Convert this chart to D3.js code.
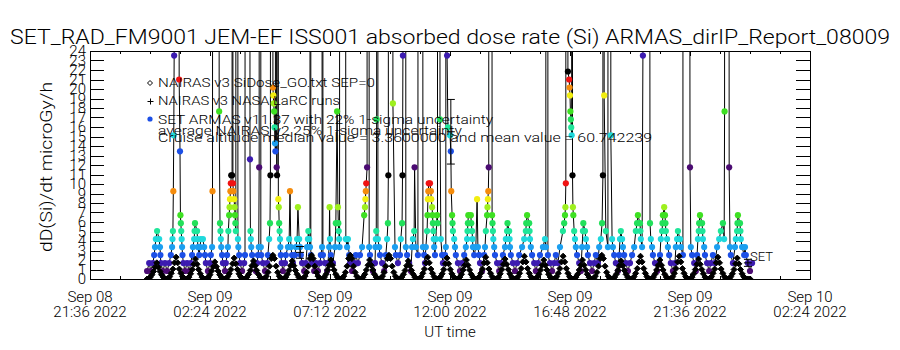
<!DOCTYPE html>
<html>
<head>
<meta charset="utf-8">
<script src="https://d3js.org/d3.v7.min.js"></script>
<style>
body { margin: 0; background: white; }
svg text { font-family: Roboto, "DejaVu Sans", sans-serif; font-weight: 300; fill: black; }
</style>
</head>
<body>
<script>
// ---- data (times in minutes after 2022-09-09 00:00 UT, dose in microGy/h) ----
const titleText = "SET_RAD_FM9001  JEM-EF ISS001 absorbed dose rate (Si) ARMAS_dirIP_Report_08009";
const xTickTimes = ["2022-09-08T21:36Z", "2022-09-09T02:24Z", "2022-09-09T07:12Z", "2022-09-09T12:00Z",
                    "2022-09-09T16:48Z", "2022-09-09T21:36Z", "2022-09-10T02:24Z"];
const yTickValues = [0,1,2,3,4,5,6,7,8,9,10,11,12,13,14,15,16,17,18,19,20,21,22,23,24];

const legendLines = [
  {sym: "diamond", text: "NAIRAS v3 SiDose_GO.txt SEP=0"},
  {sym: "plus", text: "NAIRAS v3 NASA LaRC runs"},
  {sym: "dot", text: "SET ARMAS v11.37 with 22% 1-sigma uncertainty"},
  {sym: null, text: "average NAIRAS v2 25% 1-sigma uncertainty"},
  {sym: null, text: "Cruise altitude median value = 3.3600000 and mean value = 60.742239"}
];

// SET ARMAS dose-rate quantum and the colour table cycled over it
const doseStep = 0.84;
const levelColors = ["#000000", "#4b0b72", "#3c1bb0", "#1c4fe6", "#1b9ff0", "#1fd9dc", "#1fe69a",
                     "#22e05a", "#3ee022", "#9ef01e", "#f2ee10", "#f58c0c", "#f01212"];

// SET ARMAS samples [minute, dose]; 900 = off-scale spike
const setPoints = [
  [-7,0.84],[-2,1.68],[2,0.84],[7,1.68],[10,2.52],[12,3.36],[14,4.2],[17,5.04],[22,4.2],[24,3.36],[25,2.52],
  [26,1.68],[31,0.84],[36,1.68],[41,0.84],[46,1.68],
  [50,2.52],[53,3.36],[54,4.2],[55,5.04],[56,9.24],[57,15.12],[58,23.52],[62,900],[70,21],[72,13.44],
  [73,6.72],[74,5.88],[75,5.04],[76,4.2],[77,3.36],[78,2.52],[80,1.68],[84,0.84],[89,1.68],
  [94,0.84],[98,1.68],[101,2.52],[103,3.36],[106,4.2],[107,5.04],[108,5.88],[113,5.04],[114,4.2],[115,3.36],
  [118,2.52],[120,3.36],[122,4.2],[127,4.2],[130,3.36],[132,2.52],[134,1.68],[139,0.84],[144,1.68],
  [146,2.52],[149,3.36],[150,9.24],[158,900],[166,17.64],[168,5.88],[169,5.04],[170,4.2],[171,3.36],
  [173,2.52],[175,1.68],[180,0.84],[182,1.68],
  [185,2.52],[187,3.36],[188,5.04],[190,6.72],[191,7.56],[192,8.4],[193,9.24],[194,10.08],[195,10.92],
  [197,10.92],[198,900],[199,10.08],[200,9.24],[202,8.4],[203,7.56],[204,6.72],[205,5.88],[206,5.04],
  [208,900],[211,4.2],[212,3.36],[214,2.52],[216,1.68],[221,0.84],[226,1.68],
  [228,2.52],[233,900],[240,12.6],[241,5.04],[242,4.2],[243,3.36],[245,2.52],[250,1.68],[254,0.84],
  [257,1.68],[259,2.52],[261,3.36],[262,11.76],[264,900],[266,3.36],[267,2.52],[271,1.68],[276,0.84],[281,1.68],
  [283,2.52],[286,4.2],[288,5.88],[289,10.92],[290,900],[295,20.16],[296,19.32],[297,18.48],[298,17.64],
  [299,15.96],[300,14.28],[301,13.44],[302,900],[304,11.76],[305,10.92],[306,900],[308,8.4],[309,7.56],
  [310,5.88],[311,5.04],[312,4.2],[313,3.36],[314,2.52],[316,1.68],[319,0.84],[324,1.68],
  [326,2.52],[331,3.36],[334,4.2],[336,9.24],[338,3.36],[341,2.52],[343,1.68],[348,2.52],[350,3.36],
  [353,4.2],[355,7.56],[358,4.2],[360,3.36],[362,2.52],[365,1.68],[370,0.84],[374,1.68],
  [377,3.36],[379,4.2],[380,5.04],[382,4.2],[384,3.36],[385,900],[386,2.52],[389,1.68],[394,0.84],
  [398,1.68],[403,0.84],[408,1.68],[410,2.52],[413,3.36],[414,900],[415,2.52],[420,1.68],[425,0.84],
  [427,1.68],[430,3.36],[431,7.56],[432,4.2],[434,2.52],[439,1.68],[444,3.36],[446,5.88],[449,17.64],
  [451,7.56],[452,5.88],[453,5.04],[454,4.2],[455,3.36],[456,900],[470,4.2],[473,3.36],[475,4.2],
  [478,2.52],[480,1.68],[485,0.84],[490,1.68],
  [494,2.52],[499,1.68],[504,2.52],[509,3.36],[514,6.72],[516,7.56],[517,8.4],[518,9.24],[519,10.08],
  [521,11.76],[522,900],[526,3.36],[528,2.52],[530,1.68],[535,0.84],
  [540,1.68],[541,3.36],[542,4.2],[543,5.04],[544,16.8],[545,900],[547,4.2],[550,3.36],[552,2.52],
  [557,1.68],[562,0.84],
  [566,2.52],[569,4.2],[571,5.88],[572,10.92],[574,900],[583,18.48],[588,3.36],[590,2.52],[595,1.68],
  [600,2.52],[602,4.2],[605,5.88],[606,10.92],[607,23.52],[610,900],[614,3.36],[617,2.52],[622,1.68],[626,0.84],
  [629,3.36],[631,4.2],[634,5.04],[635,11.76],[638,3.36],[643,2.52],[648,900],[655,3.36],[658,2.52],[660,1.68],
  [662,3.36],[665,5.04],[666,6.72],[667,8.4],[668,9.24],[669,10.08],[672,10.08],[674,9.24],[675,8.4],
  [677,7.56],[678,6.72],[679,5.88],[680,5.04],[681,4.2],[682,3.36],[684,2.52],[686,4.2],[689,6.72],
  [690,5.88],[691,900],[696,16.8],[698,4.2],[701,2.52],[703,1.68],[708,2.52],
  [710,3.36],[711,900],[713,23.52],[715,15.96],[720,15.12],[722,13.44],[723,9.24],[725,6.72],[726,5.88],
  [727,5.04],[730,4.2],[732,3.36],[734,2.52],[739,1.68],[744,0.84],[749,1.68],
  [754,2.52],[758,3.36],[761,4.2],[762,5.04],[763,5.88],[764,6.72],[770,6.72],[771,5.88],[773,5.04],
  [774,4.2],[775,3.36],[778,2.52],[782,3.36],[785,8.4],[787,3.36],[790,2.52],[792,1.68],[797,0.84],[802,2.52],
  [804,3.36],[806,5.04],[809,6.72],[810,7.56],[811,8.4],[812,9.24],[813,11.76],[815,900],[821,6.72],
  [822,5.88],[823,5.04],[824,4.2],[826,3.36],[828,2.52],[833,1.68],[838,0.84],[842,1.68],
  [847,2.52],[852,3.36],[854,4.2],[857,5.04],[858,5.88],[862,5.04],[863,4.2],[864,3.36],[866,2.52],
  [871,1.68],[876,0.84],[881,1.68],[886,2.52],
  [893,3.36],[898,4.2],[902,5.04],[903,5.88],[905,6.72],[910,5.88],[911,5.04],[912,4.2],[914,3.36],
  [917,2.52],[922,1.68],[926,0.84],[931,1.68],[936,2.52],
  [943,3.36],[948,4.2],[950,3.36],[952,900],[955,2.52],[960,1.68],[965,0.84],[970,1.68],[974,2.52],[979,1.68],
  [984,3.36],[991,5.04],[994,5.88],[996,6.72],[997,7.56],[998,10.08],[999,900],[1003,21.84],[1006,21],
  [1007,20.16],[1008,19.32],[1009,17.64],[1010,16.8],[1011,15.96],[1012,15.12],[1013,900],[1014,10.92],
  [1015,7.56],[1016,6.72],[1018,5.04],[1020,4.2],[1022,3.36],[1025,2.52],[1030,1.68],[1034,0.84],
  [1037,3.36],[1039,5.04],[1040,5.88],[1044,5.04],[1046,4.2],[1049,3.36],[1051,2.52],[1056,1.68],
  [1061,0.84],[1066,1.68],[1070,2.52],[1075,1.68],
  [1078,3.36],[1082,4.2],[1085,5.88],[1087,10.92],[1088,900],[1090,19.32],[1094,5.04],[1099,3.36],
  [1104,900],[1106,15.12],[1109,4.2],[1111,3.36],[1114,2.52],[1118,1.68],[1123,0.84],
  [1126,2.52],[1128,4.2],[1130,5.04],[1133,4.2],[1135,3.36],[1138,2.52],[1142,1.68],[1147,0.84],[1152,1.68],
  [1157,2.52],[1162,3.36],[1166,5.04],[1169,5.88],[1171,6.72],[1176,5.88],[1177,5.04],[1178,4.2],
  [1181,3.36],[1183,23.52],[1186,900],[1200,5.88],[1202,4.2],[1205,3.36],[1207,2.52],[1212,1.68],
  [1217,0.84],[1222,1.68],
  [1224,2.52],[1226,4.2],[1229,5.04],[1230,5.88],[1231,6.72],[1234,7.56],[1236,6.72],[1237,5.88],
  [1238,5.04],[1241,4.2],[1243,3.36],[1246,2.52],[1250,1.68],[1255,0.84],[1260,1.68],
  [1262,3.36],[1265,4.2],[1267,5.04],[1272,4.2],[1274,3.36],[1279,2.52],[1282,900],[1296,11.76],
  [1298,3.36],[1301,2.52],[1306,1.68],[1310,0.84],
  [1313,2.52],[1315,4.2],[1317,5.04],[1318,5.88],[1320,6.72],[1325,5.88],[1326,5.04],[1327,4.2],
  [1330,3.36],[1332,2.52],[1337,1.68],[1342,0.84],[1346,1.68],[1351,2.52],[1356,1.68],
  [1361,3.36],[1366,4.2],[1370,5.04],[1375,5.88],[1378,4.2],[1379,17.64],[1382,900],[1390,11.76],
  [1392,3.36],[1394,2.52],[1399,1.68],[1404,3.36],[1406,4.2],[1409,5.04],[1410,5.88],[1411,6.72],
  [1416,5.88],[1417,5.04],[1418,4.2],[1421,3.36],[1426,2.52],[1428,3.36],[1430,2.52],[1435,1.68],
  [1440,0.84],[1445,1.68]
];

// NAIRAS v3 SiDose model, regular samples
const nairasStart = -7;     // minutes after 2022-09-09 00:00
const nairasStep = 3.87;    // minutes
const nairasDose = [
  0,0.04,0.2,0.45,0.8,1.25,1.7,1.25,0.8,0.45,0.2,0.04,
  0,0.05,0.25,0.6,1.05,1.7,2.3,1.7,1.05,0.6,0.25,0.05,
  0,0.05,0.2,0.55,1.0,1.55,2.1,1.55,1.0,0.55,0.2,0.05,
  0,0.04,0.2,0.45,0.85,1.3,1.8,1.3,0.85,0.45,0.2,0.04,
  0,0.05,0.25,0.55,1.0,1.6,2.2,1.6,1.0,0.55,0.25,0.05,
  0,0.05,0.2,0.5,0.9,1.4,1.9,1.4,0.9,0.5,0.2,0.05,
  0,0.05,0.3,0.7,1.35,2.15,2.5,2.15,1.35,0.7,0.3,0.05,
  0,0.05,0.2,0.5,0.9,1.4,1.9,1.4,0.9,0.5,0.2,0.05,
  0,0.05,0.3,0.7,1.35,2.15,2.5,2.15,1.35,0.7,0.3,0.05,
  0,0.05,0.2,0.5,0.95,1.45,2.0,1.45,0.95,0.5,0.2,0.05,
  0,0.05,0.3,0.7,1.35,2.15,2.5,2.15,1.35,0.7,0.3,0.05,
  0,0.05,0.2,0.5,0.95,1.45,2.0,1.45,0.95,0.5,0.2,0.05,
  0,0.05,0.3,0.7,1.35,2.15,2.5,2.15,1.35,0.7,0.3,0.05,
  0,0.05,0.2,0.5,0.9,1.4,1.9,1.4,0.9,0.5,0.2,0.05,
  0,0.05,0.25,0.6,1.05,1.7,2.3,1.7,1.05,0.6,0.25,0.05,
  0,0.05,0.25,0.55,1.0,1.6,2.2,1.6,1.0,0.55,0.25,0.05,
  0,0.05,0.2,0.5,0.95,1.45,2.0,1.45,0.95,0.5,0.2,0.05,
  0,0.05,0.25,0.6,1.05,1.7,2.3,1.7,1.05,0.6,0.25,0.05,
  0,0.05,0.2,0.55,1.0,1.55,2.1,1.55,1.0,0.55,0.2,0.05,
  0,0.05,0.25,0.6,1.1,1.8,2.4,1.8,1.1,0.6,0.25,0.05,
  0,0.05,0.2,0.5,0.95,1.45,2.0,1.45,0.95,0.5,0.2,0.05,
  0,0.05,0.25,0.6,1.1,1.8,2.4,1.8,1.1,0.6,0.25,0.05,
  0,0.05,0.2,0.5,0.95,1.45,2.0,1.45,0.95,0.5,0.2,0.05,
  0,0.05,0.3,0.7,1.35,2.15,2.5,2.15,1.35,0.7,0.3,0.05,
  0,0.05,0.2,0.5,0.9,1.4,1.9,1.4,0.9,0.5,0.2,0.05,
  0,0.05,0.25,0.6,1.1,1.8,2.4,1.8,1.1,0.6,0.25,0.05,
  0,0.05,0.2,0.5,0.95,1.45,2.0,1.45,0.95,0.5,0.2,0.05,
  0,0.05,0.25,0.6,1.1,1.8,2.4,1.8,1.1,0.6,0.25,0.05,
  0,0.05,0.2,0.55,1.0,1.55,2.1,1.55,1.0,0.55,0.2,0.05,
  0,0.05,0.25,0.6,1.05,1.7,2.3,1.7,1.05,0.6,0.25,0.05,
  0,0.05,0.25,0.55,1.0,1.6,2.2,1.6,1.0,0.55,0.25,0.05,
  0,0,0
];

// NAIRAS LaRC runs with 1-sigma bars
const larcMinutes = [360, 722, 1435];
const larcDose = [2.8, 15.5, 1.7];
const larcSigma = [0.62, 3.4, 0.37];

// ---- layout ----
const width = 900, height = 350;
const margin = {top: 51, right: 90, bottom: 71, left: 90};
const day0 = Date.UTC(2022, 8, 9);
const minToDate = m => new Date(day0 + m * 60000);

const svg = d3.select("body").append("svg")
  .attr("width", width).attr("height", height)
  .style("background", "white");

const xScale = d3.scaleUtc()
  .domain([new Date(xTickTimes[0]), new Date(xTickTimes[xTickTimes.length - 1])])
  .range([margin.left, width - margin.right]);
const yScale = d3.scaleLinear()
  .domain([0, 24])
  .range([height - margin.bottom, margin.top]);

const colorOf = v => levelColors[Math.round(v / doseStep) % levelColors.length];

svg.append("defs").append("clipPath").attr("id", "plotClip")
  .append("rect")
  .attr("x", margin.left).attr("y", margin.top)
  .attr("width", width - margin.left - margin.right)
  .attr("height", height - margin.top - margin.bottom);

const plot = svg.append("g").attr("clip-path", "url(#plotClip)");

// SET ARMAS: black connecting line + coloured symbols
const setLine = d3.line()
  .x(d => xScale(minToDate(d[0])))
  .y(d => yScale(d[1]));
plot.append("path")
  .datum(setPoints)
  .attr("d", setLine)
  .attr("fill", "none")
  .attr("stroke", "black")
  .attr("stroke-width", 1);

plot.selectAll("circle.set").data(setPoints.filter(d => d[1] < 100)).enter()
  .append("circle")
  .attr("class", "set")
  .attr("cx", d => xScale(minToDate(d[0])))
  .attr("cy", d => yScale(d[1]))
  .attr("r", 3.1)
  .attr("fill", d => colorOf(d[1]));

// NAIRAS diamonds (dense, so they merge into solid arches)
const diamond = "M0,-3L3,0L0,3L-3,0Z";
plot.selectAll("path.nai").data(nairasDose).enter()
  .append("path")
  .attr("class", "nai")
  .attr("d", diamond)
  .attr("transform", (d, i) => `translate(${xScale(minToDate(nairasStart + i * nairasStep))},${yScale(d)})`)
  .attr("fill", "black")
  .attr("stroke", "black")
  .attr("stroke-width", 1);

// LaRC points with error bars
const larc = plot.selectAll("g.larc").data(larcMinutes).enter()
  .append("g").attr("class", "larc")
  .attr("stroke", "black").attr("stroke-width", 1).attr("fill", "none");
larc.append("path").attr("d", (m, i) => {
  const x = xScale(minToDate(m));
  const y0 = yScale(larcDose[i] - larcSigma[i]), y1 = yScale(larcDose[i] + larcSigma[i]);
  const y = yScale(larcDose[i]);
  return `M${x},${y0}V${y1}M${x - 4},${y0}H${x + 4}M${x - 4},${y1}H${x + 4}M${x - 4},${y}H${x + 4}`;
});

// ---- axes ----
const x0 = margin.left, x1 = width - margin.right;
const y0 = height - margin.bottom, y1 = margin.top;
svg.append("rect")
  .attr("x", x0 + 0.5).attr("y", y1 + 0.5)
  .attr("width", x1 - x0).attr("height", y0 - y1)
  .attr("fill", "none").attr("stroke", "black").attr("stroke-width", 1);

const yTickLen = 14;
const yTicksG = svg.append("g").attr("stroke", "black").attr("stroke-width", 1);
yTickValues.forEach(v => {
  const y = Math.round(yScale(v)) + 0.5;
  yTicksG.append("line").attr("x1", x0).attr("x2", x0 + yTickLen).attr("y1", y).attr("y2", y);
  yTicksG.append("line").attr("x1", x1).attr("x2", x1 - yTickLen).attr("y1", y).attr("y2", y);
});
svg.append("g").selectAll("text").data(yTickValues).enter()
  .append("text")
  .attr("x", x0 - 4)
  .attr("y", v => yScale(v) + 5)
  .attr("text-anchor", "end")
  .attr("font-size", 15)
  .text(v => v);

const majorTimes = xTickTimes.map(t => new Date(t));
const minorTimes = d3.range(+majorTimes[0], +majorTimes[majorTimes.length - 1] + 1, 72 * 60000).map(t => new Date(t));
const xTicksG = svg.append("g").attr("stroke", "black").attr("stroke-width", 1);
minorTimes.forEach(t => {
  const x = Math.round(xScale(t)) + 0.5;
  xTicksG.append("line").attr("x1", x).attr("x2", x).attr("y1", y0).attr("y2", y0 - 3);
  xTicksG.append("line").attr("x1", x).attr("x2", x).attr("y1", y1).attr("y2", y1 + 3);
});
majorTimes.forEach(t => {
  const x = Math.round(xScale(t)) + 0.5;
  xTicksG.append("line").attr("x1", x).attr("x2", x).attr("y1", y0).attr("y2", y0 - 5);
  xTicksG.append("line").attr("x1", x).attr("x2", x).attr("y1", y1).attr("y2", y1 + 5);
});

const fmtDay = d3.utcFormat("%b %d"), fmtTime = d3.utcFormat("%H:%M %Y");
const xLab = svg.append("g").selectAll("g").data(majorTimes).enter().append("g")
  .attr("transform", t => `translate(${xScale(t)},0)`);
xLab.append("text").attr("y", 302).attr("text-anchor", "middle").attr("font-size", 15).text(fmtDay);
xLab.append("text").attr("y", 317).attr("text-anchor", "middle").attr("font-size", 15).text(fmtTime);

svg.append("text").attr("x", 450).attr("y", 337).attr("text-anchor", "middle")
  .attr("font-size", 15).text("UT time");

svg.append("text")
  .attr("transform", "translate(52,167) rotate(-90)")
  .attr("text-anchor", "middle")
  .attr("font-size", 17)
  .attr("textLength", 170).attr("lengthAdjust", "spacingAndGlyphs")
  .text("dD(Si)/dt microGy/h");

svg.append("text").attr("x", 10).attr("y", 44)
  .attr("font-size", 20)
  .attr("textLength", 880).attr("lengthAdjust", "spacingAndGlyphs")
  .text(titleText);

// ---- legend ----
const legendY = [82, 100, 119, 130, 137];
const legendW = [217, 182, 335, 304, 494];
const leg = svg.append("g");
legendLines.forEach((l, i) => {
  const y = legendY[i];
  if (l.sym === "diamond") {
    leg.append("path").attr("d", "M0,-2.5L2.5,0L0,2.5L-2.5,0Z")
      .attr("transform", `translate(150,${y + 1})`).attr("fill", "none").attr("stroke", "black");
  } else if (l.sym === "plus") {
    leg.append("path").attr("d", "M-3,0H3M0,-3V3")
      .attr("transform", `translate(150.5,${y + 1.5})`).attr("stroke", "black");
  } else if (l.sym === "dot") {
    leg.append("circle").attr("cx", 150).attr("cy", y).attr("r", 2.6).attr("fill", levelColors[3]);
  }
  leg.append("text").attr("x", 158).attr("y", y + 5)
    .attr("font-size", 13)
    .attr("textLength", legendW[i]).attr("lengthAdjust", "spacingAndGlyphs")
    .text(l.text);
});

svg.append("text").attr("x", 750).attr("y", 261).attr("font-size", 13)
  .attr("textLength", 23).attr("lengthAdjust", "spacingAndGlyphs").text("SET");
</script>
</body>
</html>
